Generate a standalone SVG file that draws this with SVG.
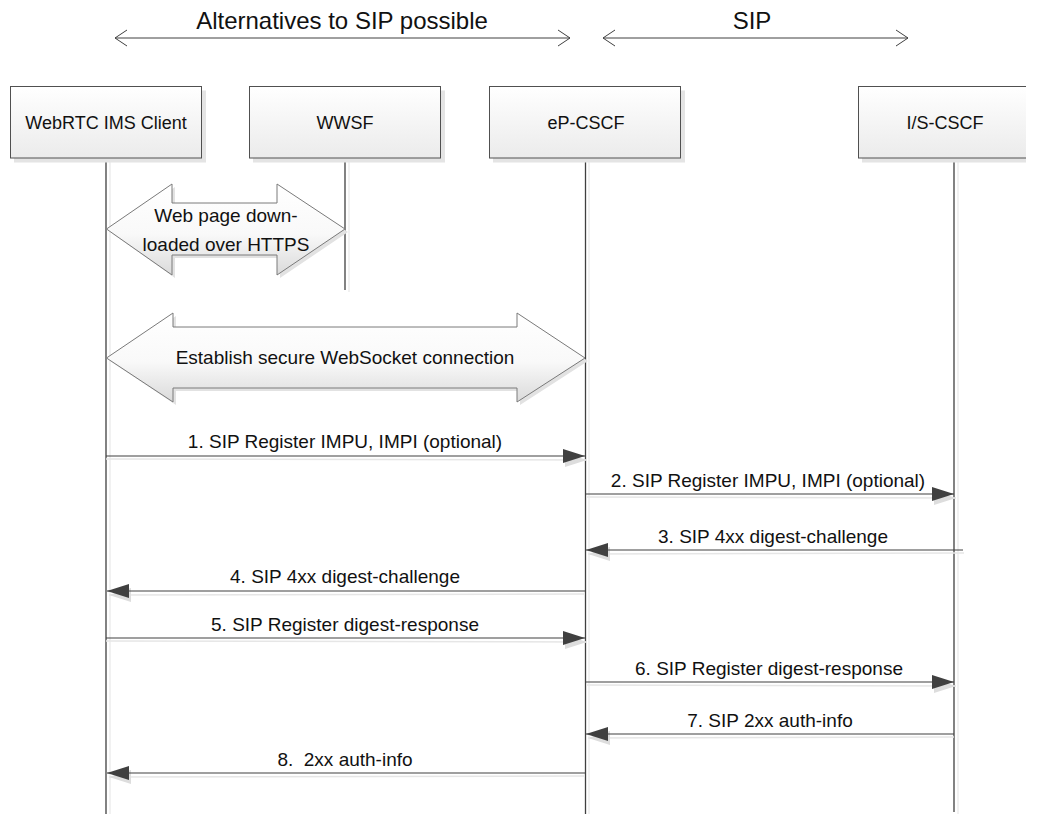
<svg xmlns="http://www.w3.org/2000/svg" width="1039" height="814" viewBox="0 0 1039 814">
  <style>
    text { font-family: "Liberation Sans", Arial, sans-serif; fill: #111; }
    .title { font-size: 24px; text-anchor: middle; }
    .lbl { font-size: 18px; text-anchor: middle; }
    .msg { font-size: 19px; text-anchor: middle; }
    .box { fill: url(#boxFill); stroke: #505050; stroke-width: 1; }
    .boxShadow { fill: #e4e4e4; }
    .life { stroke: #404040; stroke-width: 1.3; }
    .lifeShadow { stroke: #ececec; stroke-width: 1.5; }
    .span { stroke: #404040; stroke-width: 1; fill: none; marker-start: url(#chev); marker-end: url(#chev); }
    .msgLine { stroke: #404040; stroke-width: 1.2; fill: none; marker-end: url(#head); }
    .msgShadow { stroke: #e6e6e6; stroke-width: 1.5; fill: none; marker-end: url(#headShadow); }
    .block { fill: url(#blockFill); stroke: #7a7a7a; stroke-width: 1; }
    .blockShadow { fill: #e2e2e2; }
  </style>
  <defs>
    <linearGradient id="boxFill" x1="0" y1="0" x2="0" y2="1">
      <stop offset="0" stop-color="#ffffff"/>
      <stop offset="1" stop-color="#ebebeb"/>
    </linearGradient>
    <linearGradient id="blockFill" x1="0" y1="0" x2="0" y2="1">
      <stop offset="0" stop-color="#ffffff"/>
      <stop offset="0.55" stop-color="#f9f9f9"/>
      <stop offset="1" stop-color="#dadada"/>
    </linearGradient>
    <marker id="head" viewBox="0 0 22 14" refX="22" refY="7" markerWidth="22" markerHeight="14" markerUnits="userSpaceOnUse" orient="auto">
      <path d="M0,0 L22,7 L0,14 Z" fill="#404040"/>
    </marker>
    <marker id="headShadow" viewBox="0 0 22 14" refX="22" refY="7" markerWidth="22" markerHeight="14" markerUnits="userSpaceOnUse" orient="auto">
      <path d="M0,0 L22,7 L0,14 Z" fill="#dddddd"/>
    </marker>
    <marker id="chev" viewBox="-1 -1 14 18" refX="12" refY="8" markerWidth="14" markerHeight="18" markerUnits="userSpaceOnUse" orient="auto-start-reverse">
      <path d="M0,0 L12,8 L0,16" fill="none" stroke="#404040" stroke-width="1"/>
    </marker>
    <clipPath id="pageClip">
      <rect x="0" y="0" width="1026" height="814"/>
    </clipPath>
  </defs>

  <!-- scope annotations -->
  <g id="scope-alternatives">
    <line class="span" x1="115" y1="38" x2="570" y2="38"/>
    <text class="title" x="342" y="29">Alternatives to SIP possible</text>
  </g>
  <g id="scope-sip">
    <line class="span" x1="603" y1="38" x2="908" y2="38"/>
    <text class="title" x="752" y="29">SIP</text>
  </g>

  <!-- lifelines -->
  <g id="lifelines">
    <line class="lifeShadow" x1="110" y1="160" x2="110" y2="814"/>
    <line class="lifeShadow" x1="349" y1="160" x2="349" y2="292"/>
    <line class="lifeShadow" x1="589" y1="160" x2="589" y2="814"/>
    <line class="lifeShadow" x1="958" y1="160" x2="958" y2="814"/>
    <line class="life" x1="106" y1="158" x2="106" y2="814"/>
    <line class="life" x1="345" y1="158" x2="345" y2="290"/>
    <line class="life" x1="585.5" y1="158" x2="585.5" y2="814"/>
    <line class="life" x1="954" y1="158" x2="954" y2="812"/>
  </g>

  <!-- participants -->
  <g id="webrtc-client">
    <rect class="boxShadow" x="14" y="90.5" width="192" height="72"/>
    <rect class="box" x="10.5" y="86.5" width="191" height="71.5"/>
    <text class="lbl" x="106" y="129">WebRTC IMS Client</text>
  </g>
  <g id="wwsf">
    <rect class="boxShadow" x="253" y="90.5" width="192" height="72"/>
    <rect class="box" x="249.5" y="86.5" width="191" height="71.5"/>
    <text class="lbl" x="345" y="129">WWSF</text>
  </g>
  <g id="ep-cscf">
    <rect class="boxShadow" x="493" y="90.5" width="192" height="72"/>
    <rect class="box" x="489.5" y="86.5" width="191" height="71.5"/>
    <text class="lbl" x="586" y="129">eP-CSCF</text>
  </g>
  <g id="is-cscf" clip-path="url(#pageClip)">
    <rect class="boxShadow" x="862" y="90.5" width="192" height="72"/>
    <rect class="box" x="858.5" y="86.5" width="191" height="71.5"/>
    <text class="lbl" x="945" y="129">I/S-CSCF</text>
  </g>

  <!-- connectors -->
  <g id="connectors">
    <!-- web page download over HTTPS -->
    <g id="https-download">
      <path class="blockShadow" d="M110,232 L175,187 L175,206 L280,206 L280,187 L348,232 L280,278 L280,258 L175,258 L175,278 Z"/>
      <path class="block" d="M106.5,229 L172,184 L172,203 L277,203 L277,184 L345,229 L277,275 L277,255 L172,255 L172,275 Z"/>
      <text class="msg" x="226" y="222">Web page down-</text>
      <text class="msg" x="226" y="251">loaded over HTTPS</text>
    </g>
    <!-- secure WebSocket -->
    <g id="websocket">
      <path class="blockShadow" d="M110,361 L176,316 L176,330 L520,330 L520,316 L588,361 L520,405 L520,391 L176,391 L176,405 Z"/>
      <path class="block" d="M106.5,358 L173,313 L173,327 L517,327 L517,313 L585,358 L517,402 L517,388 L173,388 L173,402 Z"/>
      <text class="msg" x="345" y="364">Establish secure WebSocket connection</text>
    </g>

    <!-- 1 -->
    <g id="msg1">
      <line class="msgShadow" x1="106" y1="459" x2="587" y2="460"/>
      <line class="msgLine" x1="106" y1="456" x2="585" y2="456"/>
      <text class="msg" x="345" y="448">1. SIP Register IMPU, IMPI (optional)</text>
    </g>
    <!-- 2 -->
    <g id="msg2">
      <line class="msgShadow" x1="586" y1="497" x2="956" y2="498"/>
      <line class="msgLine" x1="586" y1="494" x2="954" y2="494"/>
      <text class="msg" x="768" y="487">2. SIP Register IMPU, IMPI (optional)</text>
    </g>
    <!-- 3 -->
    <g id="msg3">
      <line class="msgShadow" x1="964" y1="553" x2="588" y2="554"/>
      <line class="msgLine" x1="963" y1="550" x2="586" y2="550"/>
      <text class="msg" x="773" y="543">3. SIP 4xx digest-challenge</text>
    </g>
    <!-- 4 -->
    <g id="msg4">
      <line class="msgShadow" x1="585" y1="594" x2="109" y2="595"/>
      <line class="msgLine" x1="585" y1="591" x2="107" y2="591"/>
      <text class="msg" x="345" y="583">4. SIP 4xx digest-challenge</text>
    </g>
    <!-- 5 -->
    <g id="msg5">
      <line class="msgShadow" x1="106" y1="641" x2="587" y2="642"/>
      <line class="msgLine" x1="106" y1="638" x2="585" y2="638"/>
      <text class="msg" x="345" y="631">5. SIP Register digest-response</text>
    </g>
    <!-- 6 -->
    <g id="msg6">
      <line class="msgShadow" x1="586" y1="685" x2="956" y2="686"/>
      <line class="msgLine" x1="586" y1="682" x2="954" y2="682"/>
      <text class="msg" x="769" y="675">6. SIP Register digest-response</text>
    </g>
    <!-- 7 -->
    <g id="msg7">
      <line class="msgShadow" x1="954" y1="737" x2="588" y2="738"/>
      <line class="msgLine" x1="954" y1="734" x2="586" y2="734"/>
      <text class="msg" x="770" y="727">7. SIP 2xx auth-info</text>
    </g>
    <!-- 8 -->
    <g id="msg8">
      <line class="msgShadow" x1="585" y1="776" x2="109" y2="777"/>
      <line class="msgLine" x1="585" y1="773" x2="107" y2="773"/>
      <text class="msg" x="345" y="766" xml:space="preserve">8.  2xx auth-info</text>
    </g>
  </g>
</svg>
